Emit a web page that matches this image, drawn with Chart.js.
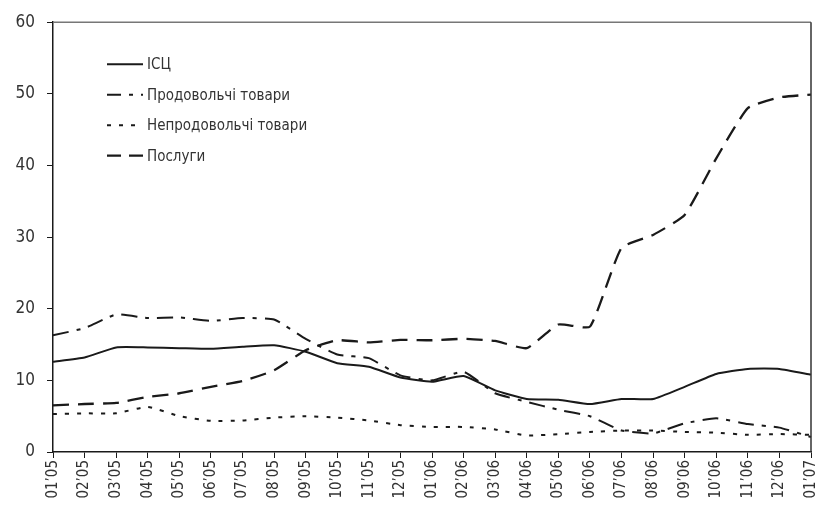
<!DOCTYPE html>
<html>
<head>
<meta charset="utf-8">
<script src="https://cdn.jsdelivr.net/npm/chart.js@4"></script>
<style>
  html, body { margin: 0; padding: 0; background: #fff; }
  #wrap { width: 831px; height: 516px; }
</style>
</head>
<body>
<div id="wrap"><canvas id="chart1"></canvas></div>
<script>
// місяці
const months = ['01’05','02’05','03’05','04’05','05’05','06’05','07’05','08’05','09’05','10’05','11’05','12’05',
  '01’06','02’06','03’06','04’06','05’06','06’06','07’06','08’06','09’06','10’06','11’06','12’06','01’07'];

const cpi      = [12.6,13.2,14.6,14.6,14.5,14.4,14.7,14.9,14.0,12.4,11.9,10.4,9.8,10.6,8.6,7.4,7.3,6.7,7.4,7.4,9.1,10.9,11.6,11.6,10.8];
const food     = [16.3,17.3,19.2,18.7,18.8,18.3,18.7,18.5,15.8,13.6,13.1,10.7,10.0,11.2,8.2,7.0,5.9,5.0,3.0,2.6,4.0,4.7,3.9,3.4,2.1];
const nonFood  = [5.3,5.4,5.4,6.3,5.0,4.35,4.4,4.8,5.0,4.8,4.4,3.75,3.5,3.5,3.15,2.3,2.5,2.8,3.0,3.0,2.8,2.7,2.4,2.5,2.4];
const services = [6.5,6.7,6.85,7.7,8.2,9.1,9.9,11.4,14.2,15.6,15.3,15.65,15.6,15.8,15.5,14.5,17.8,17.5,28.5,30.3,33.1,41.0,48.0,49.5,49.9];

const yTicks = [0, 10, 20, 30, 40, 50, 60];

const FONT = '"DejaVu Sans Condensed", "DejaVu Sans", sans-serif';
const INK = '#1a1a1a';

// легенда всередині області графіка
const innerLegend = {
  id: 'innerLegend',
  afterDatasetsDraw(chart) {
    const ctx = chart.ctx;
    const a = chart.chartArea;
    ctx.save();
    ctx.font = '15px ' + FONT;
    ctx.textBaseline = 'middle';
    chart.data.datasets.forEach((ds, i) => {
      const y = a.top + 42 + i * 30.5;
      const x0 = a.left + 54;
      ctx.strokeStyle = ds.borderColor;
      ctx.lineWidth = ds.borderWidth;
      ctx.setLineDash(ds.legendDash || []);
      ctx.beginPath();
      ctx.moveTo(x0, y);
      ctx.lineTo(x0 + 36, y);
      ctx.stroke();
      ctx.setLineDash([]);
      ctx.fillStyle = '#333';
      ctx.fillText(ds.label, x0 + 40, y + 1);
    });
    ctx.restore();
  }
};

// верхня і права рамка
const frame = {
  id: 'frame',
  afterDraw(chart) {
    const ctx = chart.ctx;
    const a = chart.chartArea;
    ctx.save();
    ctx.lineWidth = 1.5;
    ctx.strokeStyle = '#777';
    ctx.beginPath();
    ctx.moveTo(a.left, a.top);
    ctx.lineTo(a.right, a.top);
    ctx.stroke();
    ctx.strokeStyle = '#333';
    ctx.beginPath();
    ctx.moveTo(a.right, a.top);
    ctx.lineTo(a.right, a.bottom);
    ctx.stroke();
    ctx.restore();
  }
};

const ctx = document.getElementById('chart1').getContext('2d');
new Chart(ctx, {
  type: 'line',
  data: {
    labels: months,
    datasets: [
      { label: 'ІСЦ', data: cpi, borderColor: INK, borderWidth: 2, legendDash: [] },
      { label: 'Продовольчі товари', data: food, borderColor: INK, borderWidth: 2,
        borderDash: [16, 8, 4, 8], legendDash: [14, 8, 4, 8] },
      { label: 'Непродовольчі товари', data: nonFood, borderColor: INK, borderWidth: 2,
        borderDash: [4, 8], legendDash: [4, 8] },
      { label: 'Послуги', data: services, borderColor: INK, borderWidth: 2.3,
        borderDash: [16, 9], legendDash: [14, 8] }
    ]
  },
  options: {
    responsive: true,
    maintainAspectRatio: false,
    animation: false,
    layout: { padding: { top: 20, right: 9, left: 0, bottom: 0 } },
    elements: {
      point: { radius: 0 },
      line: { tension: 0.15, fill: false }
    },
    plugins: {
      legend: { display: false },
      tooltip: { enabled: false }
    },
    scales: {
      x: {
        offset: false,
        border: { display: true, color: INK, width: 1.5 },
        grid: { display: true, drawOnChartArea: false, color: INK, tickLength: 6 },
        ticks: {
          minRotation: 90, maxRotation: 90, autoSkip: false,
          color: '#333', font: { family: FONT, size: 15 }, padding: 2
        },
        afterFit: s => { s.height = 64; }
      },
      y: {
        min: 0, max: 60,
        afterBuildTicks: s => { s.ticks = yTicks.map(v => ({ value: v })); },
        border: { display: true, color: INK, width: 1.5 },
        grid: { display: true, drawOnChartArea: false, color: INK, tickLength: 6 },
        ticks: { color: '#333', font: { family: FONT, size: 17 }, padding: 12 },
        afterFit: s => { s.width = 53; }
      }
    }
  },
  plugins: [innerLegend, frame]
});
</script>
</body>
</html>
